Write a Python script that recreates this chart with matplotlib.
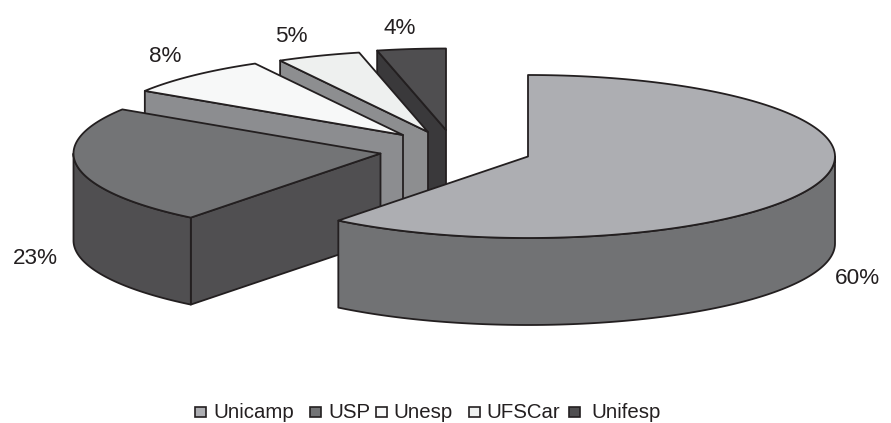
# -*- coding: utf-8 -*-
import numpy as np
import matplotlib
matplotlib.use('Agg')
import matplotlib.pyplot as plt
from matplotlib.patches import Polygon, Rectangle

plt.rcParams['font.family'] = ['Liberation Sans', 'DejaVu Sans']

nombres = ['Unicamp', 'USP', 'Unesp', 'UFSCar', 'Unifesp']
partes = [60.6, 23.5, 7.9, 4.4, 3.6]
etiquetas = ['60%', '23%', '8%', '5%', '4%']

# colores de cada rebanada
c_arriba = ['#ADAEB2', '#737476', '#F7F8F8', '#EEF0EF', '#4F4E50']
c_lado = ['#717274', '#504F51', '#8C8D90', '#8D8E90', '#3A393B']
c_linea = '#231F20'

# geometria en pixeles de la imagen
centros = [(528, 156.5), (380.5, 153.5), (403, 135), (428, 132), (446, 130)]
a, b, h = 307, 81.5, 87
pos_etiq = [(857, 279), (35, 259), (165, 57), (291, 37), (400, 29)]
ley_cuadro = [195, 310, 376, 469, 569]
ley_texto = [213, 328, 393, 486, 591]


def punto(cx, cy, t):
    # t en grados, 0 arriba y sentido horario
    r = np.radians(t)
    return np.column_stack((cx + a*np.sin(r), cy - b*np.cos(r)))


fig = plt.figure(figsize=(8.91, 4.23), dpi=100)
ax = fig.add_axes([0, 0, 1, 1])
ax.set_xlim(0, 891)
ax.set_ylim(423, 0)
ax.axis('off')

limites = np.concatenate(([0], np.cumsum(partes)*360/sum(partes)))

#%% de atras hacia adelante
for i in range(4, -1, -1):
    cx, cy = centros[i]
    t1, t2 = limites[i], limites[i+1]
    estilo = dict(edgecolor=c_linea, linewidth=1.3, joinstyle='round')

    # pared radial, solo se ve en las rebanadas de la izquierda
    if t1 >= 180:
        p = punto(cx, cy, t1)[0]
        ax.add_patch(Polygon([(cx, cy), p, (p[0], p[1]+h), (cx, cy+h)],
                             facecolor=c_lado[i], **estilo))

    # pared curva del frente
    u1, u2 = max(t1, 90), min(t2, 270)
    if u2 > u1:
        arco = punto(cx, cy, np.linspace(u1, u2, 120))
        abajo = arco[::-1] + [0, h]
        ax.add_patch(Polygon(np.vstack((arco, abajo)),
                             facecolor=c_lado[i], **estilo))

    # tapa
    arco = punto(cx, cy, np.linspace(t1, t2, 200))
    ax.add_patch(Polygon(np.vstack(([(cx, cy)], arco)),
                         facecolor=c_arriba[i], **estilo))

for i in range(5):
    ax.text(pos_etiq[i][0], pos_etiq[i][1], etiquetas[i], fontsize=16.2,
            color=c_linea, ha='center', va='center')
    ax.add_patch(Rectangle((ley_cuadro[i], 407), 10.5, 10.5, facecolor=c_arriba[i],
                           edgecolor=c_linea, linewidth=1.2))
    ax.text(ley_texto[i], 413, nombres[i], fontsize=14.7, color=c_linea,
            ha='left', va='center')

fig.savefig('out.png', dpi=100)
